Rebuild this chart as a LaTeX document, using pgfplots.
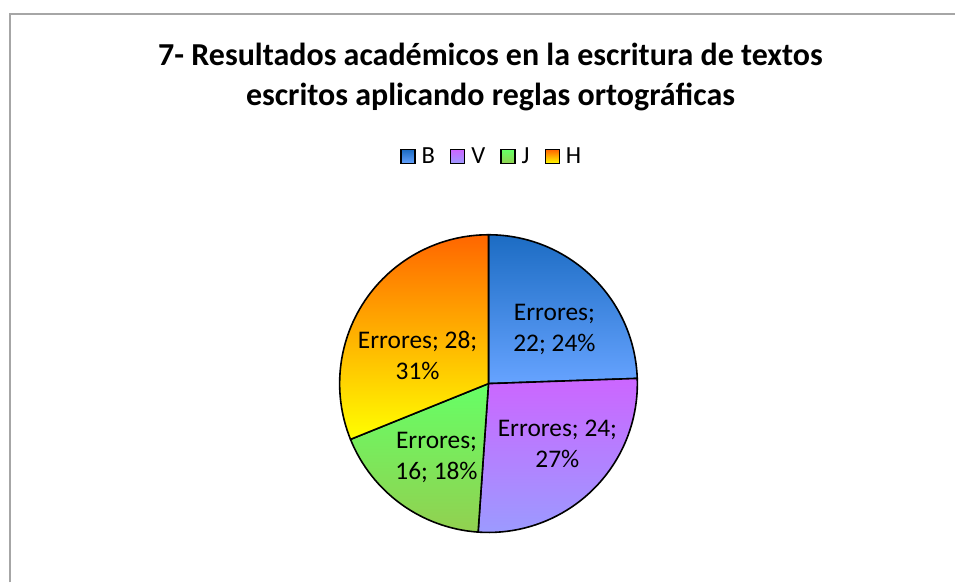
\documentclass[border=0pt]{standalone}
\usepackage{pgfplots}
\pgfplotsset{compat=1.18}
\usepackage{pgfplotstable}
\usepackage{fontspec}
\setmainfont{Carlito}

\definecolor{bTop}{HTML}{1C6CC3}
\definecolor{bBot}{HTML}{66A3FF}
\definecolor{vTop}{HTML}{CC66FF}
\definecolor{vBot}{HTML}{9B9BFF}
\definecolor{jTop}{HTML}{66FF66}
\definecolor{jBot}{HTML}{92D050}
\definecolor{hTop}{HTML}{FF6600}
\definecolor{hBot}{HTML}{FFFF00}
\definecolor{frame}{HTML}{A6A6A6}

% errores por letra
\pgfplotstableread{
serie errores
B 22
V 24
J 16
H 28
}\errores

\begin{document}
\begin{tikzpicture}
\pgfplotstablegetelem{0}{errores}\of\errores \let\vB\pgfplotsretval
\pgfplotstablegetelem{1}{errores}\of\errores \let\vV\pgfplotsretval
\pgfplotstablegetelem{2}{errores}\of\errores \let\vJ\pgfplotsretval
\pgfplotstablegetelem{3}{errores}\of\errores \let\vH\pgfplotsretval
\pgfmathsetmacro\total{\vB+\vV+\vJ+\vH}
% slice end angles, clockwise from 12 o'clock
\pgfmathsetmacro\eB{90-360*\vB/\total}
\pgfmathsetmacro\eV{\eB-360*\vV/\total}
\pgfmathsetmacro\eJ{\eV-360*\vJ/\total}
\pgfmathsetmacro\eH{\eJ-360*\vH/\total}
\pgfmathtruncatemacro\pB{round(100*\vB/\total)}
\pgfmathtruncatemacro\pV{round(100*\vV/\total)}
\pgfmathtruncatemacro\pJ{round(100*\vJ/\total)}
\pgfmathtruncatemacro\pH{round(100*\vH/\total)}
\def\R{74.5pt}
\begin{axis}[
  scale only axis, width=478pt, height=291.5pt,
  xmin=0, xmax=956, ymin=0, ymax=583,
  hide axis, clip=false,
  legend columns=4,
  legend style={at={(0.516,0.731)}, anchor=center, draw=none, fill=none,
    font=\fontsize{12.3}{14}\selectfont,
    /tikz/every odd column/.append style={column sep=1pt},
    /tikz/every even column/.append style={column sep=5.5pt}},
  legend cell align=left,
]
\path (axis cs:0,0) rectangle (axis cs:956,583);
\draw[frame, line width=1pt] (axis cs:10,0) -- (axis cs:10,569) -- (axis cs:956,569);

\addlegendimage{legend image code/.code={\shade[top color=bTop,bottom color=bBot,draw=black,line width=0.7pt] (0pt,-3.5pt) rectangle (7pt,3.5pt);}}
\addlegendentry{B}
\addlegendimage{legend image code/.code={\shade[top color=vTop,bottom color=vBot,draw=black,line width=0.7pt] (0pt,-3.5pt) rectangle (7pt,3.5pt);}}
\addlegendentry{V}
\addlegendimage{legend image code/.code={\shade[top color=jTop,bottom color=jBot,draw=black,line width=0.7pt] (0pt,-3.5pt) rectangle (7pt,3.5pt);}}
\addlegendentry{J}
\addlegendimage{legend image code/.code={\shade[top color=hTop,bottom color=hBot,draw=black,line width=0.7pt] (0pt,-3.5pt) rectangle (7pt,3.5pt);}}
\addlegendentry{H}

\shade[top color=bTop,bottom color=bBot,draw=black,line width=0.8pt,line join=round]
  (axis cs:489,199) -- ++(90:\R) arc[start angle=90,end angle=\eB,radius=\R] -- cycle;
\shade[top color=vTop,bottom color=vBot,draw=black,line width=0.8pt,line join=round]
  (axis cs:489,199) -- ++(\eB:\R) arc[start angle=\eB,end angle=\eV,radius=\R] -- cycle;
\shade[top color=jTop,bottom color=jBot,draw=black,line width=0.8pt,line join=round]
  (axis cs:489,199) -- ++(\eV:\R) arc[start angle=\eV,end angle=\eJ,radius=\R] -- cycle;
\shade[top color=hTop,bottom color=hBot,draw=black,line width=0.8pt,line join=round]
  (axis cs:489,199) -- ++(\eJ:\R) arc[start angle=\eJ,end angle=\eH,radius=\R] -- cycle;

\node[align=center, font=\bfseries\fontsize{16}{20}\selectfont] at (axis cs:491,506)
  {7- Resultados académicos en la escritura de textos\\escritos aplicando reglas ortográficas};

\begin{scope}[every node/.style={align=center, font=\fontsize{12.7}{15.5}\selectfont}]
\node at (axis cs:555,253) {Errores;\\\vB; \pB\%};
\node at (axis cs:558,139) {Errores; \vV;\\\pV\%};
\node at (axis cs:437,125) {Errores;\\\vJ; \pJ\%};
\node at (axis cs:418,227) {Errores; \vH;\\\pH\%};
\end{scope}
\end{axis}
\end{tikzpicture}
\end{document}
